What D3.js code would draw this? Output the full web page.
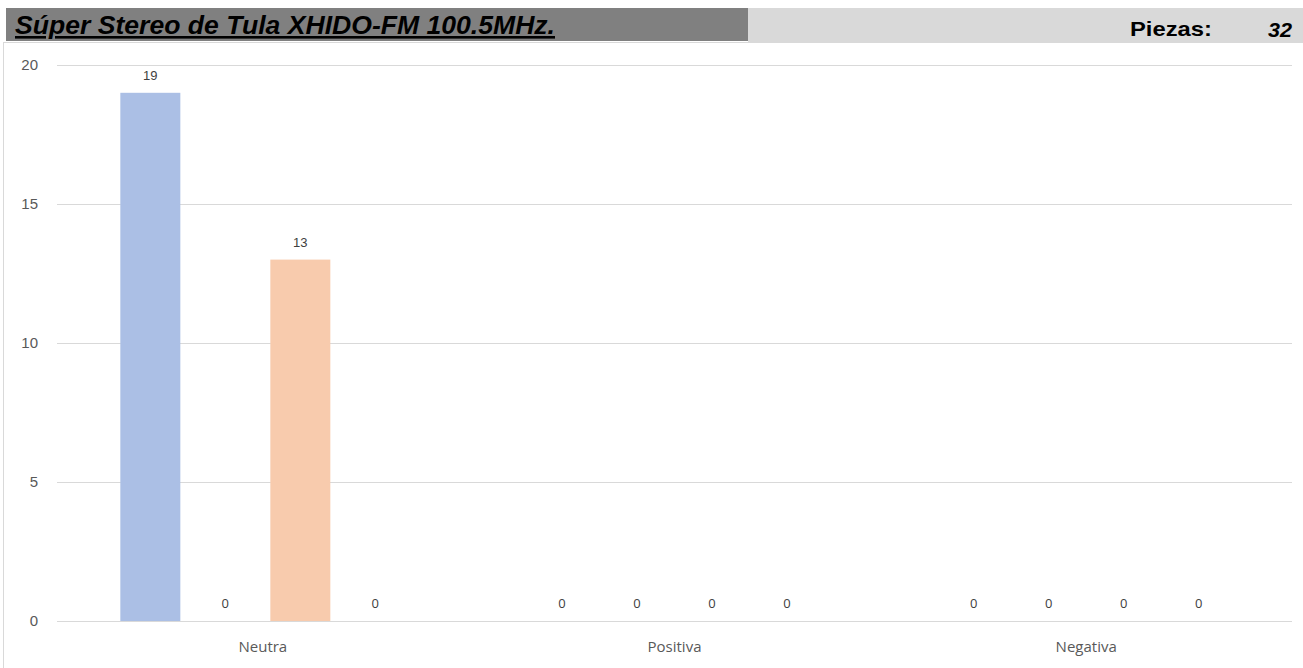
<!DOCTYPE html>
<html><head><meta charset="utf-8">
<script src="https://cdn.jsdelivr.net/npm/d3@7/dist/d3.min.js"></script>
<style>body{margin:0;background:#fff;}svg{display:block;}</style>
</head><body>
<svg id="c" width="1303" height="668"></svg>
<script>
const title = "Súper Stereo de Tula XHIDO-FM 100.5MHz.";
const piezasLabel = "Piezas:";
const piezasTotal = "32";
const categories = ["Neutra", "Positiva", "Negativa"];
const seriesNames = ["Serie 1", "Serie 2", "Serie 3", "Serie 4"];
const serie1 = [19, 0, 0];
const serie2 = [0, 0, 0];
const serie3 = [13, 0, 0];
const serie4 = [0, 0, 0];
const seriesValues = [serie1, serie2, serie3, serie4];
const seriesColors = ["#abbfe5", "#c9c9c9", "#f8cbad", "#ffe699"];
const yTicks = [0, 5, 10, 15, 20];

(function(){
const svg = d3.select("#c");

// header banner
svg.append("rect").attr("x",748).attr("y",8).attr("width",555).attr("height",34).attr("fill","#d9d9d9");
svg.append("rect").attr("x",6).attr("y",8).attr("width",742).attr("height",33).attr("fill","#808080");
svg.append("text").attr("x",15).attr("y",34)
  .attr("font-family","Liberation Sans Narrow, Liberation Sans, Arial, sans-serif")
  .attr("font-size",26).attr("font-weight","bold").attr("font-style","italic")
  .attr("text-decoration","underline").attr("fill","#000")
  .attr("textLength",540).attr("lengthAdjust","spacingAndGlyphs")
  .text(title);
svg.append("text").attr("x",1130).attr("y",36)
  .attr("font-family","Liberation Sans Narrow, Liberation Sans, Arial, sans-serif")
  .attr("font-size",21).attr("font-weight","bold").attr("fill","#000")
  .attr("textLength",82).attr("lengthAdjust","spacingAndGlyphs")
  .text(piezasLabel);
svg.append("text").attr("x",1268).attr("y",37)
  .attr("font-family","Liberation Sans Narrow, Liberation Sans, Arial, sans-serif")
  .attr("font-size",21).attr("font-weight","bold").attr("font-style","italic").attr("fill","#000")
  .attr("textLength",24).attr("lengthAdjust","spacingAndGlyphs")
  .text(piezasTotal);

// chart frame
svg.append("rect").attr("x",3.5).attr("y",42.5).attr("width",1302).attr("height",630)
  .attr("fill","#fff").attr("stroke","#d9d9d9").attr("stroke-width",1);

const mLeft = 57, mRight = 1292, mTop = 65, mBottom = 621;
const y = d3.scaleLinear().domain([0,20]).range([mBottom, mTop]);
const pi = 1 - 300/((mRight-mLeft)/3);
const x0 = d3.scaleBand().domain(categories).range([mLeft,mRight]).paddingInner(pi).paddingOuter(pi/2);
const x1 = d3.scaleBand().domain(seriesNames).range([0,x0.bandwidth()]).paddingInner(0.2).paddingOuter(0.1);

// grid
const grid = svg.append("g").attr("transform",`translate(${mLeft},0)`)
  .call(d3.axisLeft(y).tickValues(yTicks).tickSize(-(mRight-mLeft)).tickFormat(""));
grid.select(".domain").remove();
grid.selectAll("line").attr("stroke","#d9d9d9").attr("stroke-width",1);

// y labels
svg.append("g").selectAll("text").data(yTicks).join("text")
  .attr("x",38).attr("y",d=>y(d)+5).attr("text-anchor","end")
  .attr("font-family","Liberation Sans, Arial, sans-serif").attr("font-size",15).attr("fill","#595959")
  .text(d=>d);

// bars
const data = [];
categories.forEach((c,ci)=>seriesNames.forEach((s,si)=>data.push({c,s,si,v:seriesValues[si][ci]})));
svg.append("g").selectAll("rect").data(data).join("rect")
  .attr("x",d=>x0(d.c)+x1(d.s)).attr("width",x1.bandwidth())
  .attr("y",d=>y(d.v)).attr("height",d=>y(0)-y(d.v))
  .attr("fill",d=>seriesColors[d.si]);

// data labels
svg.append("g").selectAll("text").data(data).join("text")
  .attr("x",d=>x0(d.c)+x1(d.s)+x1.bandwidth()/2).attr("y",d=>y(d.v)-13)
  .attr("text-anchor","middle")
  .attr("font-family",d=>d.v>0?"Liberation Sans, Arial, sans-serif":"Open Sans, sans-serif")
  .attr("font-size",13).attr("fill","#404040")
  .text(d=>d.v);

// x labels
const xa = svg.append("g").attr("transform",`translate(0,${mBottom})`)
  .call(d3.axisBottom(x0).tickSize(0).tickPadding(20));
xa.select(".domain").remove();
xa.selectAll("text").attr("font-family","Open Sans, sans-serif").attr("font-size",15).attr("fill","#595959");
})();
</script>
</body></html>
